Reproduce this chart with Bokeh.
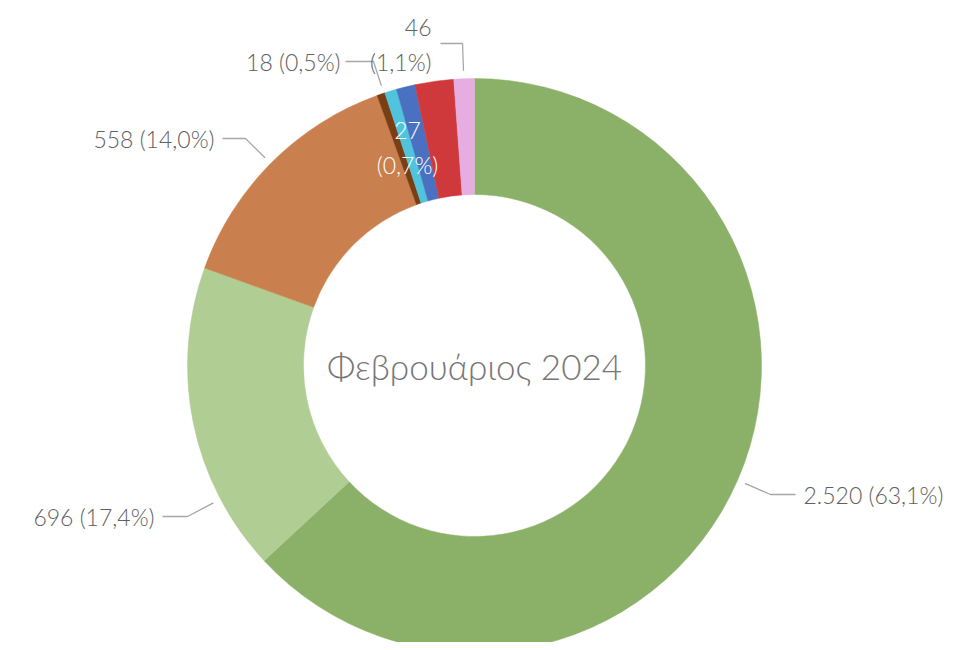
import math
from bokeh.plotting import figure
from bokeh.models import Range1d, ColumnDataSource
from bokeh.embed import file_html
from bokeh.resources import INLINE
from bokeh.core.properties import value

# ---- data ----
values = [2520, 696, 558, 18, 27, 42, 87, 46]
value_labels = ["2.520", "696", "558", "18", "27", "", "", "46"]
pct_labels = ["63,1%", "17,4%", "14,0%", "0,5%", "0,7%", "", "", "1,1%"]
colors = ["#8BB068", "#B0CD94", "#CA804E", "#7A3E14", "#4FC4DC", "#4A70C2", "#D0393B", "#E6ADE0"]
center_title = "Φεβρουάριος 2024"

# ---- layout ----
W, H = 948, 642
CX, CY = 474, 650 - 365
R_OUT, R_IN = 287, 171
FONT = "Lato Light, Lato"
TXT_COL = "#606060"
LEAD_COL = "#A6A6A6"
LBL_SIZE = "23px"

def sy(y):
    return 650 - y

p = figure(width=W, height=H, output_backend="svg", toolbar_location=None,
           x_range=Range1d(0, W), y_range=Range1d(650 - H, 650),
           min_border=0, outline_line_color=None, background_fill_color="white")
p.axis.visible = False
p.grid.visible = False

total = sum(values)
cum = [0.0]
for v in values:
    cum.append(cum[-1] + v / total)
starts = [math.pi / 2 - c * 2 * math.pi for c in cum[:-1]]
ends = [math.pi / 2 - c * 2 * math.pi for c in cum[1:]]

src = ColumnDataSource(dict(x=[CX] * len(values), y=[CY] * len(values),
                            start=starts, end=ends, color=colors))
p.annular_wedge(x="x", y="y", inner_radius=R_IN, outer_radius=R_OUT,
                start_angle="start", end_angle="end", direction="clock",
                fill_color="color", line_color="color", line_width=0.5, source=src)

# outside labels: index -> (text anchor x, y, align, elbow x, y, line end x)
outside = {
    0: dict(tx=803, ty=494, align="left", ex=770, ey=494, lx=795),
    1: dict(tx=154, ty=516, align="right", ex=187, ey=516, lx=162),
    2: dict(tx=214, ty=138, align="right", ex=245, ey=138, lx=222),
    3: dict(tx=340, ty=61, align="right", ex=373, ey=61, lx=345),
}
for i, d in outside.items():
    txt = f"{value_labels[i]} ({pct_labels[i]})"
    p.text(x=[d["tx"]], y=[sy(d["ty"])], text=[txt], text_align=d["align"],
           text_baseline="middle", text_font=value(FONT), text_font_size=LBL_SIZE,
           text_color=TXT_COL)

def leader_point(i, ex, ey):
    dx, dy = ex - CX, sy(ey) - CY
    cw = math.degrees(math.atan2(dx, dy)) % 360
    lo, hi = cum[i] * 360, cum[i + 1] * 360
    cw = min(max(cw, lo + 0.2), hi - 0.2)
    r = R_OUT + 8
    return CX + r * math.sin(math.radians(cw)), CY + r * math.cos(math.radians(cw))

for i, d in outside.items():
    px, py = leader_point(i, d["ex"], d["ey"])
    p.line(x=[d["lx"], d["ex"], px], y=[sy(d["ey"]), sy(d["ey"]), py],
           line_color=LEAD_COL, line_width=1.3)

# pink label (two lines, above)
i = 7
p.text(x=[431], y=[sy(44)], text=[f"{value_labels[i]}\n({pct_labels[i]})"],
       text_align="right", text_baseline="middle", text_font=value(FONT),
       text_font_size=LBL_SIZE, text_color=TXT_COL, text_line_height=1.25)
px, py = leader_point(i, 462, 43)
p.line(x=[440, 462, px], y=[sy(43), sy(43), py], line_color=LEAD_COL, line_width=1.3)

# cyan label inside (white)
i = 4
p.text(x=[407], y=[sy(147)], text=[f"{value_labels[i]}\n({pct_labels[i]})"],
       text_align="center", text_baseline="middle", text_font=value(FONT),
       text_font_size=LBL_SIZE, text_color="white", text_line_height=1.25)

# centre title
p.text(x=[CX], y=[CY], text=[center_title], text_align="center", text_baseline="middle",
       text_font=value(FONT), text_font_size="35px", text_color="#767676")

open("out.html", "w").write(file_html(p, INLINE))
